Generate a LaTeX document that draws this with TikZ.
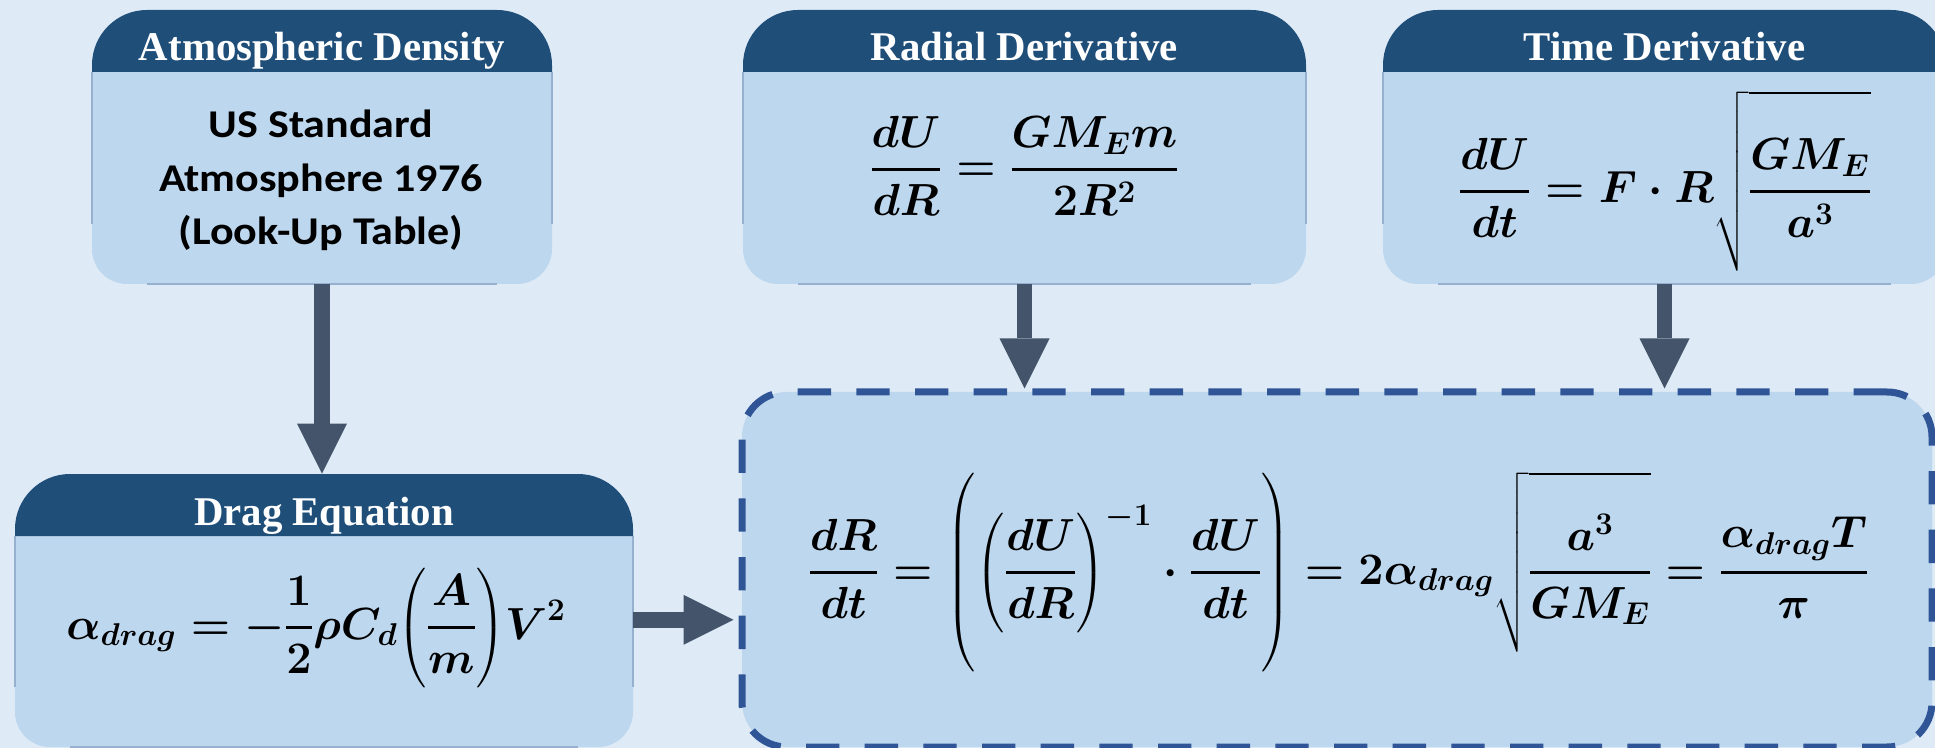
\RequirePackage{fix-cm}
\documentclass[tikz,border=0pt]{standalone}
\usepackage{amsmath}
\usepackage[no-math]{fontspec}
\setmainfont{Carlito}
\newfontfamily\hdrfont{Liberation Serif}
\newfontfamily\bodyfont[FakeStretch=1.12]{Carlito}
\usetikzlibrary{arrows.meta,calc,fit}
\definecolor{bg}{HTML}{DEEBF7}
\definecolor{bodyc}{HTML}{BDD7EE}
\definecolor{hdrc}{HTML}{1F4E79}
\definecolor{arrc}{HTML}{44546A}
\definecolor{dashc}{HTML}{2F5597}
\definecolor{edgec}{HTML}{96B1CF}
\newcommand\bfr[2]{\genfrac{}{}{2.6pt}{0}{#1}{#2}}
\tikzset{
  hdrtext/.style={text=white, inner sep=0pt, font=\hdrfont\bfseries\fontsize{30.6pt}{36pt}\selectfont},
  bodytext/.style={text=black, inner sep=0pt, font=\bodyfont\bfseries\fontsize{29.5pt}{40pt}\selectfont},
  mathtext/.style={text=black, inner sep=0pt, font=\fontsize{33.75pt}{40pt}\selectfont\boldmath},
  blockarr/.style={draw=arrc, line width=11.6pt, -{Triangle[length=37.5pt,width=37.5pt,line width=0pt]}},
  edgeline/.style={draw=edgec, line width=0.9pt},
  mainbox/.style={draw=dashc, fill=bodyc, line width=5.25pt, dash pattern=on 25pt off 19pt,
     rounded corners=33.75pt, inner sep=0pt}
}
% #1 name, #2 x1, #3 x2, #4 ytop, #5 yhead, #6 ybottom, #7 title
\newcommand\mkbox[7]{%
  \fill[bodyc, rounded corners=26.25pt] (#2,#5) -- (#2,#6) -- (#3,#6) -- (#3,#5);
  \draw[edgeline] (#2,#5) -- (#2,{#6-60});
  \draw[edgeline] (#3,#5) -- (#3,{#6-60});
  \draw[edgeline] ({#2+55},#6) -- ({#3-55},#6);
  \fill[hdrc, rounded corners=41.25pt] (#2,#5) -- (#2,#4) -- (#3,#4) -- (#3,#5);
  \node[hdrtext, anchor=base] (#1-title) at ({(#2+#3)/2},{#4+51}) {#7};
  \node[fit={(#2,#4) (#3,#6)}, inner sep=0pt] (#1) {};
}
\begin{document}
\begin{tikzpicture}[x=0.75pt, y=-0.75pt]
\useasboundingbox (0,0) rectangle (1935,748);
\clip (0,0) rectangle (1935,748);
\fill[bg] (0,0) rectangle (1935,748);

\mkbox{atm}{92}{552}{10}{72}{284}{Atmospheric Density}
\mkbox{rad}{743}{1306}{10}{72}{284}{Radial Derivative}
\mkbox{tim}{1383}{1946}{10}{72}{284}{Time Derivative}
\mkbox{drag}{15}{633}{474}{536}{747}{Drag Equation}

\node[mainbox, minimum width=892.5pt, minimum height=266.25pt] (main) at (1337,569.5) {};

% connectors
\draw[blockarr] (atm.south) -- (atm.south |- drag.north);
\draw[blockarr] (rad.south) -- (rad.south |- main.north);
\draw[blockarr] (tim.south) -- (tim.south |- main.north);
\coordinate (dragout) at ([yshift=-7pt]drag.east);
\draw[blockarr, shorten >=3.75pt] (dragout) -- (dragout -| main.west);

% texts
\node[bodytext, anchor=base] (atmA) at (321,138) {US Standard};
\node[bodytext, anchor=base] (atmB) at (321,192) {Atmosphere 1976};
\node[bodytext, anchor=base] (atmC) at (321,245) {(Look-Up Table)};

\node[mathtext, anchor=base] (radeq) at (1024.5,181)
  {$\displaystyle \bfr{dU}{dR}=\bfr{GM_Em}{2R^2}$};
\node[mathtext, anchor=base] (timeq) at (1665,203)
  {$\displaystyle \bfr{dU}{dt}=F\cdot R\sqrt{\rule[-44pt]{0pt}{114pt}\bfr{GM_E}{a^3}}$};
\node[mathtext, anchor=base] (drageq) at (316,639)
  {$\displaystyle \alpha_{drag}=-\bfr{1}{2}\rho C_d{\left(\bfr{A}{m}\right)}V^2$};
\node[mathtext, anchor=base] (maineq) at (1338.5,584)
  {$\displaystyle \bfr{dR}{dt}=\left(\left(\bfr{dU}{dR}\right)^{-1}\cdot\bfr{dU}{dt}\rule[-62.6pt]{0pt}{139pt}\right)=2\alpha_{drag}\sqrt{\rule[-44pt]{0pt}{114pt}\bfr{a^3}{GM_E}}=\bfr{\alpha_{drag}T}{\pi}$};
\end{tikzpicture}
\end{document}
